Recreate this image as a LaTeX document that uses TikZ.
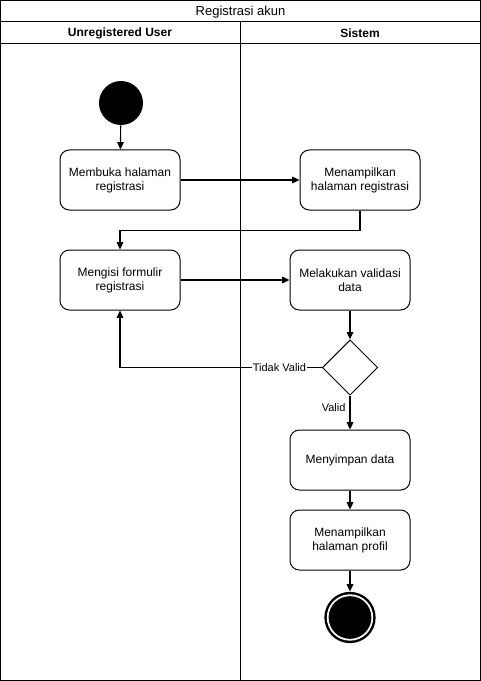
\documentclass[tikz,border=0pt]{standalone}
\usepackage{fontspec}
\setmainfont{Liberation Sans}
\usetikzlibrary{shapes.geometric,arrows.meta}
\begin{document}
\begin{tikzpicture}[x=0.75pt,y=-0.75pt,
  every node/.style={font=\fontsize{9}{10.5}\selectfont},
  actbox/.style={draw, rounded corners=7pt, minimum width=90pt, minimum height=45pt, align=center, inner sep=2pt, line width=0.75pt},
  conn/.style={draw, line width=0.85pt, -{Triangle[length=5.5pt,width=5pt]}},
  lbl/.style={fill=white, inner sep=1pt, font=\fontsize{8.25}{10}\selectfont}]
\useasboundingbox (0,0) rectangle (481,681);
% swimlane frame
\draw[line width=0.75pt] (0.5,0.5) rectangle (480,680);
\draw[line width=0.75pt] (0.5,22) -- (480,22);
\draw[line width=0.75pt] (0.5,44) -- (480,44);
\draw[line width=0.75pt] (240,22) -- (240,680);
\node (title) [font=\fontsize{9.75}{11}\selectfont] at (240.5,12) {Registrasi akun};
\node (lane1) at (120,33) {\bfseries Unregistered User};
\node (lane2) at (360,33) {\bfseries Sistem};
% nodes
\node (start) [circle, fill=black, minimum size=33pt, inner sep=0] at (121,103) {};
\node (b1) [actbox] at (120,180) {Membuka halaman\\registrasi};
\node (b2) [actbox] at (360,180) {Menampilkan\\halaman registrasi};
\node (b3) [actbox] at (120,280) {Mengisi formulir\\registrasi};
\node (b4) [actbox] at (350,280) {Melakukan validasi\\data};
\node (dia) [diamond, draw, aspect=1, minimum size=41.5pt, inner sep=0, line width=0.75pt] at (350,367.5) {};
\node (b5) [actbox] at (350,460) {Menyimpan data};
\node (b6) [actbox] at (350,540) {Menampilkan\\halaman profil};
\node (end) [circle, fill=black, minimum size=38.5pt, inner sep=0] at (350,617.5) {};
\fill[white] (end.center) circle (17.4pt);
\fill[black] (end.center) circle (16pt);
% connectors
\draw[conn] (start) -- (b1);
\draw[conn] (b1.east) -- (b2.west);
\draw[conn] (b2.south) -- ++(0,20) -| (b3.north);
\draw[conn] (b3.east) -- (b4.west);
\draw[conn] (b4.south) -- (dia.north);
\draw[conn] (dia.west) -| node[lbl, pos=0.105] {Tidak Valid} (b3.south);
\draw[conn] (dia.south) -- node[pos=0.35, left, inner sep=3pt, font=\fontsize{8.25}{10}\selectfont] {Valid} (b5.north);
\draw[conn] (b5.south) -- (b6.north);
\draw[conn] (b6.south) -- (end);
\end{tikzpicture}
\end{document}
